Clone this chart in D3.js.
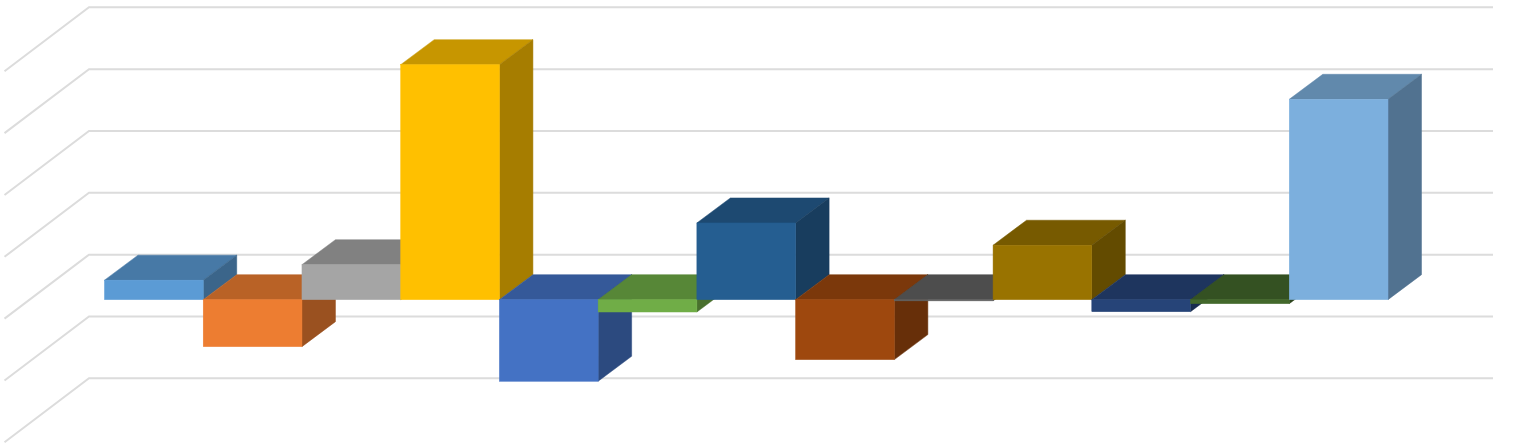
<!DOCTYPE html>
<html>
<head>
  <title>3D column chart</title>
  <script src="https://d3js.org/d3.v7.min.js"></script>
  <style>
    html, body { margin: 0; padding: 0; background: #fff; }
    svg { display: block; }
    .grid { fill: none; stroke: #dcdcdc; stroke-width: 2; }
  </style>
</head>
<body>
  <div class="chart"></div>
  <script>
    // values, in units of one gridline step
    const series = ["S1", "S2", "S3", "S4", "S5", "S6", "S7", "S8", "S9", "S10", "S11", "S12", "S13"];
    const values = [0.315, -0.76, 0.565, 3.8, -1.32, -0.2, 1.24, -0.97, -0.02, 0.88, -0.195, -0.065, 3.24];
    const colors = ["#5b9bd5", "#ed7d31", "#a5a5a5", "#ffc000", "#4472c4", "#70ad47", "#255e91",
                    "#9e480e", "#636363", "#997300", "#264478", "#43682b", "#7cafdd"];
    const gridTicks = [-2, -1, 0, 1, 2, 3, 4];

    const width = 1529, height = 446;

    const svg = d3.select(".chart").append("svg")
      .attr("width", width)
      .attr("height", height);

    // y is measured on the back wall
    const y = d3.scaleLinear().domain([-2, 4]).range([378.3, 7.3]);
    const x = d3.scaleBand().domain(series).range([104.5, 1388]);

    // wall + floor depth, and the shifts of a bar inside that depth
    const wallDx = 84.5, wallDy = 64, wallLeft = 89, wallRight = 1493;
    const barDx = 33.5, barDy = 25;
    const frontDy = 45;

    // gridlines
    svg.append("g").selectAll("path")
      .data(gridTicks)
      .join("path")
      .attr("class", "grid")
      .attr("d", d => d3.line()([
        [wallLeft - wallDx, y(d) + wallDy],
        [wallLeft, y(d)],
        [wallRight, y(d)]
      ]));

    function shade(c, k) {
      const r = d3.rgb(c);
      return d3.rgb(r.r * k, r.g * k, r.b * k).formatHex();
    }

    const poly = d3.line().curve(d3.curveLinearClosed);

    // left to right so that later bars paint over earlier ones
    const bars = svg.append("g").selectAll("g")
      .data(series.map((s, i) => ({ s, v: values[i], c: colors[i] })))
      .join("g");

    const zero = y(0) + frontDy;

    // top face sits on whichever end of the bar is higher
    bars.append("path")
      .attr("fill", d => shade(d.c, 0.78))
      .attr("stroke", d => shade(d.c, 0.78))
      .attr("stroke-width", 0.5)
      .attr("d", d => {
        const x0 = x(d.s), x1 = x0 + x.bandwidth();
        const t = Math.min(zero, y(d.v) + frontDy);
        return poly([[x0, t], [x0 + barDx, t - barDy], [x1 + barDx, t - barDy], [x1, t]]);
      });

    // side face
    bars.append("path")
      .attr("fill", d => shade(d.c, 0.65))
      .attr("stroke", d => shade(d.c, 0.65))
      .attr("stroke-width", 0.5)
      .attr("d", d => {
        const x1 = x(d.s) + x.bandwidth();
        const yv = y(d.v) + frontDy;
        return poly([[x1, zero], [x1 + barDx, zero - barDy], [x1 + barDx, yv - barDy], [x1, yv]]);
      });

    // front face
    bars.append("rect")
      .attr("fill", d => d.c)
      .attr("stroke", d => d.c)
      .attr("stroke-width", 0.5)
      .attr("x", d => x(d.s))
      .attr("width", x.bandwidth())
      .attr("y", d => Math.min(zero, y(d.v) + frontDy))
      .attr("height", d => Math.abs(y(d.v) + frontDy - zero));
  </script>
</body>
</html>
